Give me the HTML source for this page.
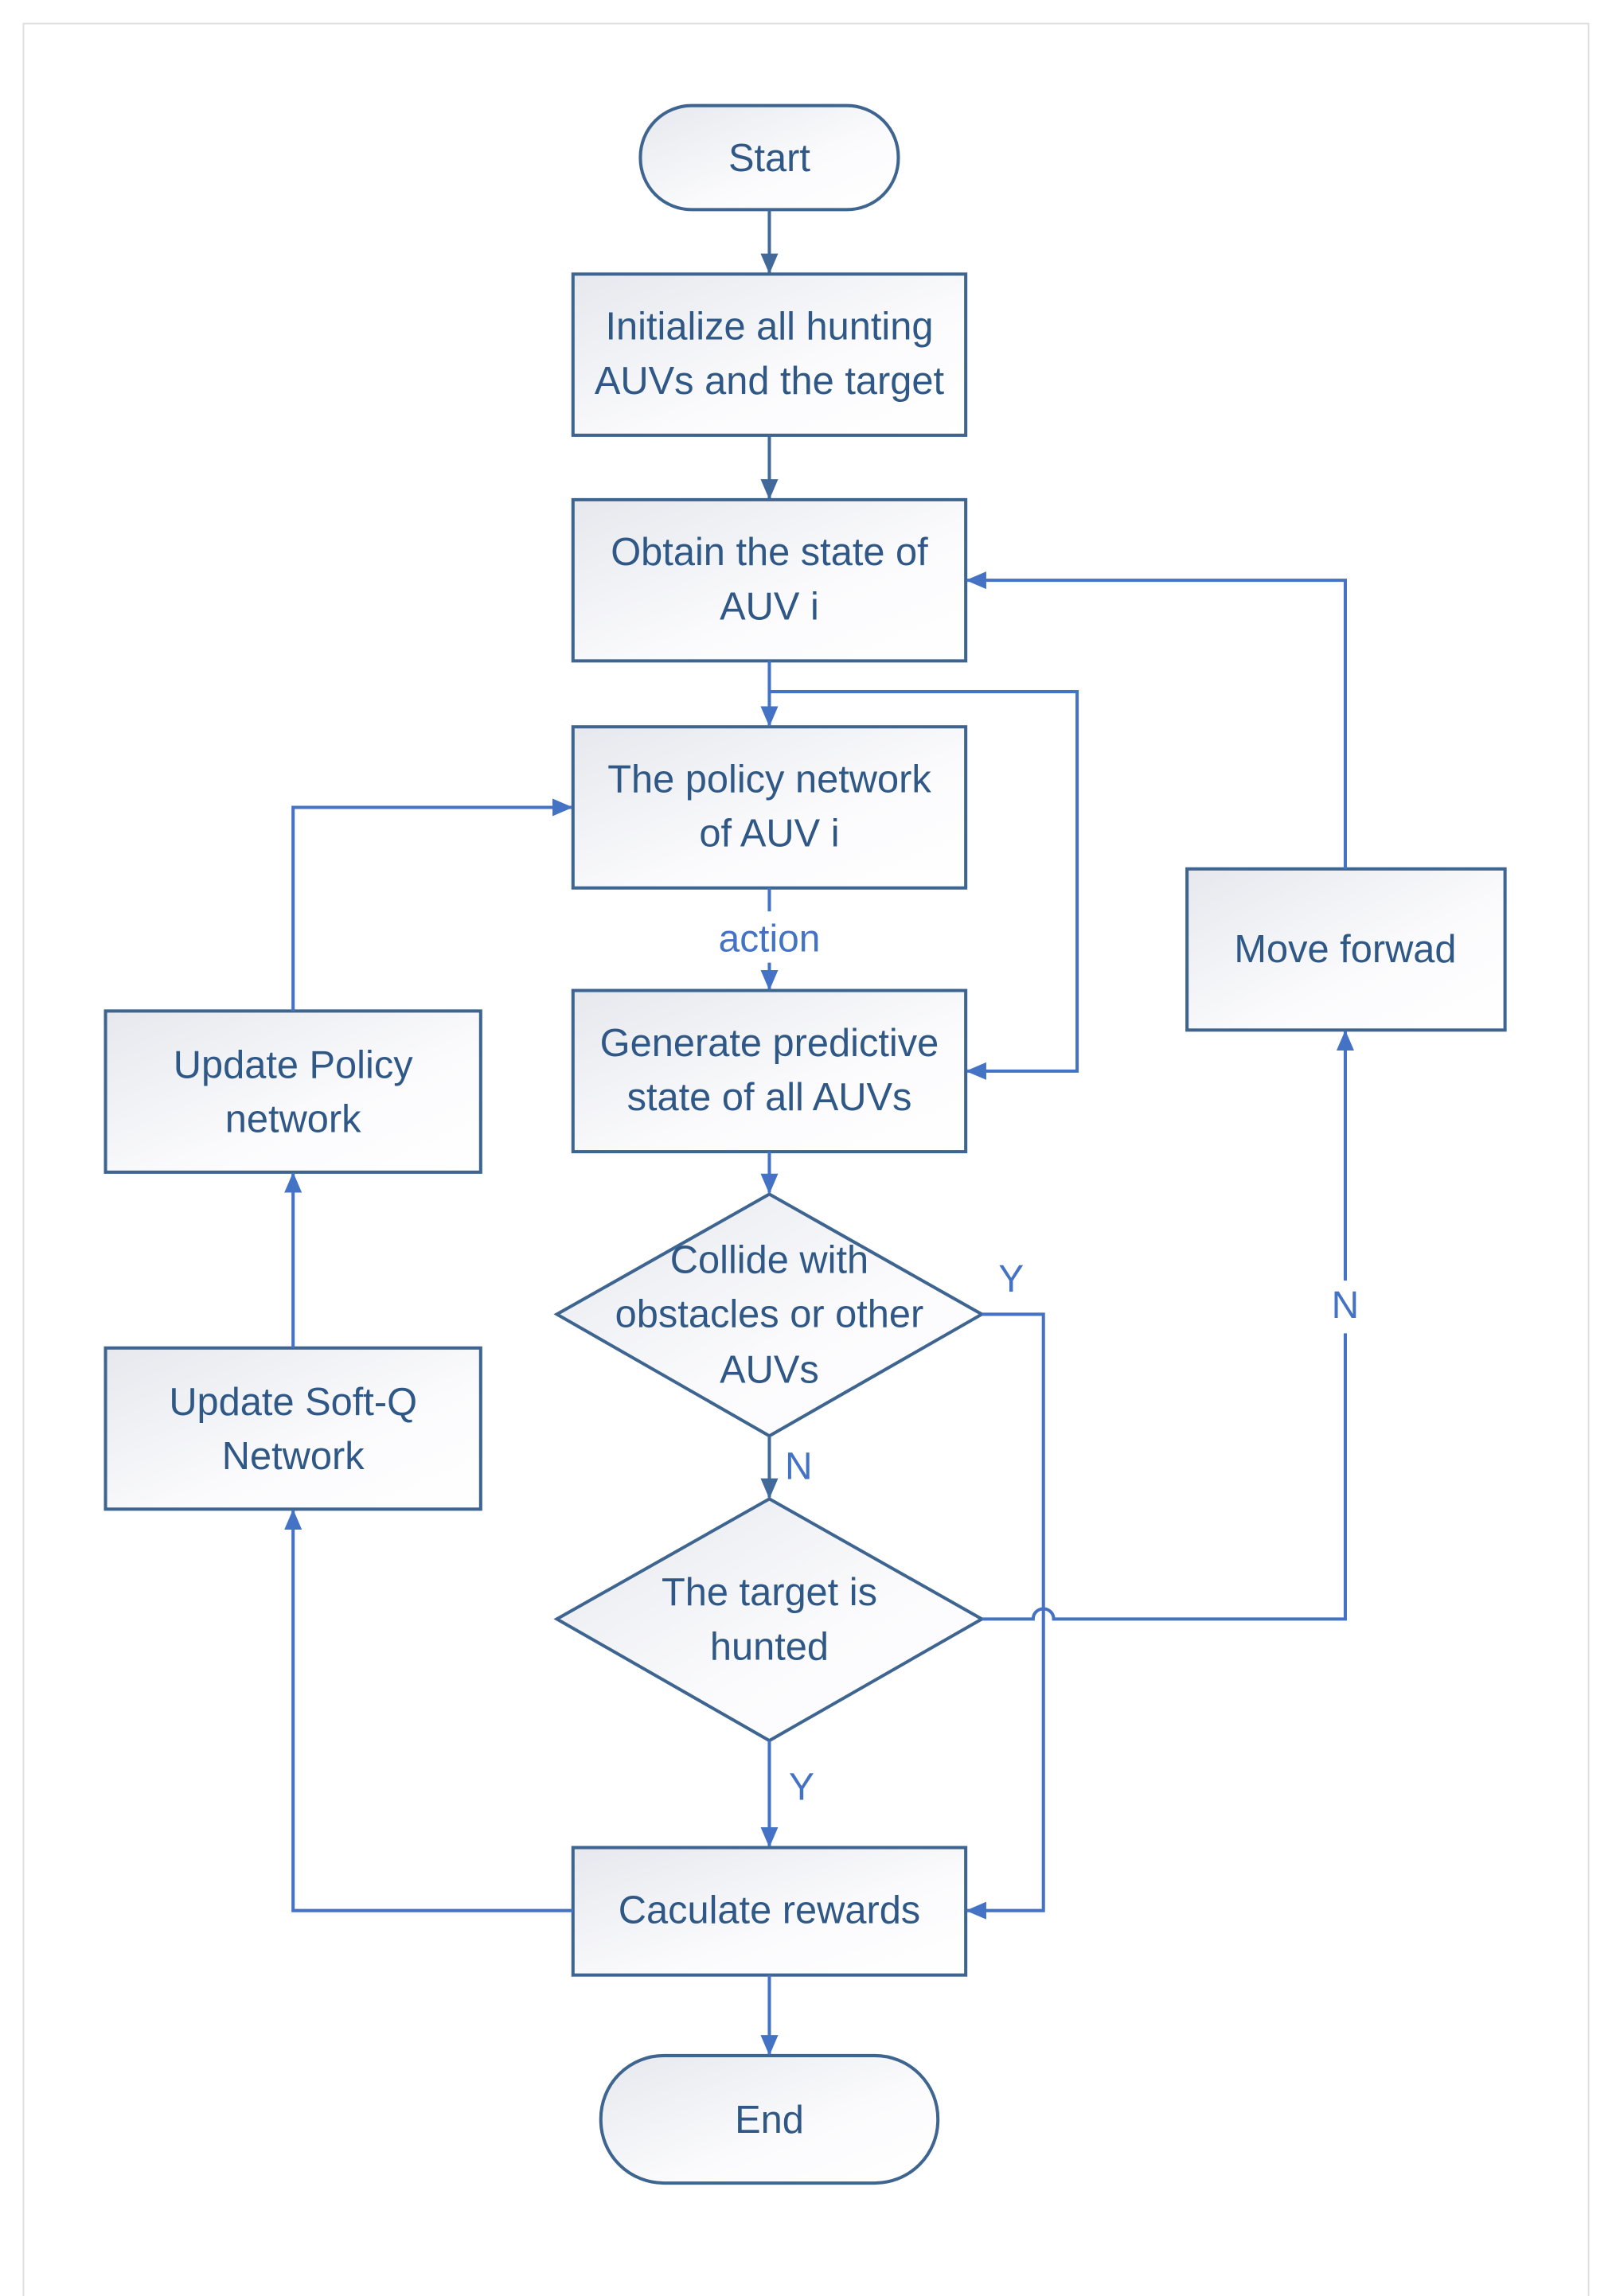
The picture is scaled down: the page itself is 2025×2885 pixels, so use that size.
<!DOCTYPE html>
<html><head><meta charset="utf-8"><style>html,body{margin:0;padding:0;background:#fff}svg{display:block}</style></head>
<body>
<svg width="2025" height="2885" viewBox="0 0 1100 1567" xmlns="http://www.w3.org/2000/svg">
<defs>
<linearGradient id="g" x1="0" y1="0" x2="1" y2="1"><stop offset="0" stop-color="#e6e8ed"/><stop offset="0.6" stop-color="#fbfbfd"/><stop offset="1" stop-color="#ffffff"/></linearGradient>
<marker id="ad" markerWidth="14" markerHeight="12" refX="13" refY="6" orient="auto" markerUnits="userSpaceOnUse"><path d="M0,0 L14,6 L0,12 z" fill="#41699a"/></marker>
<marker id="ab" markerWidth="14" markerHeight="12" refX="13" refY="6" orient="auto" markerUnits="userSpaceOnUse"><path d="M0,0 L14,6 L0,12 z" fill="#4472c4"/></marker>
</defs>
<rect x="16" y="16" width="1068" height="1600" fill="#fff" stroke="#dedede" stroke-width="1"/>
<g fill="url(#g)" stroke="#3e6590" stroke-width="2.2">
<rect x="437" y="72" width="176" height="71" rx="35"/>
<rect x="391" y="187" width="268" height="110"/>
<rect x="391" y="341" width="268" height="110"/>
<rect x="391" y="496" width="268" height="110"/>
<rect x="391" y="676" width="268" height="110"/>
<polygon points="525,815 670,897 525,980 380,897"/>
<polygon points="525,1023 670,1105 525,1188 380,1105"/>
<rect x="391" y="1261" width="268" height="87"/>
<rect x="410" y="1403" width="230" height="87" rx="43"/>
<rect x="72" y="690" width="256" height="110"/>
<rect x="72" y="920" width="256" height="110"/>
<rect x="810" y="593" width="217" height="110"/>
</g>
<g fill="none" stroke-width="2.2">
<line x1="525" y1="143" x2="525" y2="186" stroke="#41699a" marker-end="url(#ad)"/>
<line x1="525" y1="297" x2="525" y2="340" stroke="#41699a" marker-end="url(#ad)"/>
<line x1="525" y1="980" x2="525" y2="1022" stroke="#41699a" marker-end="url(#ad)"/>
<g stroke="#4472c4">
<line x1="525" y1="451" x2="525" y2="495" marker-end="url(#ab)"/>
<polyline points="525,472 735,472 735,731 660,731" marker-end="url(#ab)"/>
<line x1="525" y1="606" x2="525" y2="622"/>
<line x1="525" y1="657" x2="525" y2="675" marker-end="url(#ab)"/>
<line x1="525" y1="786" x2="525" y2="814" marker-end="url(#ab)"/>
<polyline points="670,897 712,897 712,1304 660,1304" marker-end="url(#ab)"/>
<path d="M670,1105 L705,1105 A7,7 0 0 1 719,1105 L918,1105 L918,910"/>
<line x1="918" y1="874" x2="918" y2="704" marker-end="url(#ab)"/>
<polyline points="918,593 918,396 660,396" marker-end="url(#ab)"/>
<line x1="525" y1="1188" x2="525" y2="1260" marker-end="url(#ab)"/>
<line x1="525" y1="1348" x2="525" y2="1402" marker-end="url(#ab)"/>
<polyline points="391,1304 200,1304 200,1031" marker-end="url(#ab)"/>
<line x1="200" y1="920" x2="200" y2="801" marker-end="url(#ab)"/>
<polyline points="200,690 200,551 390,551" marker-end="url(#ab)"/>
</g>
</g>
<g font-family="'Liberation Sans', sans-serif" font-size="26.5" fill="#2f5886" text-anchor="middle" dominant-baseline="central">
<text x="525" y="108">Start</text>
<text x="525" y="223">Initialize all hunting</text>
<text x="525" y="260">AUVs and the target</text>
<text x="525" y="377">Obtain the state of</text>
<text x="525" y="414">AUV i</text>
<text x="525" y="532">The policy network</text>
<text x="525" y="569">of AUV i</text>
<text x="525" y="712">Generate predictive</text>
<text x="525" y="749">state of all AUVs</text>
<text x="525" y="860">Collide with</text>
<text x="525" y="897">obstacles or other</text>
<text x="525" y="935">AUVs</text>
<text x="525" y="1087">The target is</text>
<text x="525" y="1124">hunted</text>
<text x="525" y="1304">Caculate rewards</text>
<text x="525" y="1447">End</text>
<text x="200" y="727">Update Policy</text>
<text x="200" y="764">network</text>
<text x="200" y="957">Update Soft-Q</text>
<text x="200" y="994">Network</text>
<text x="918" y="648">Move forwad</text>
</g>
<g font-family="'Liberation Sans', sans-serif" font-size="26" fill="#4472c4" text-anchor="middle" dominant-baseline="central">
<text x="525" y="641">action</text>
<text x="690" y="873">Y</text>
<text x="545" y="1001">N</text>
<text x="918" y="891">N</text>
<text x="547" y="1220">Y</text>
</g>
</svg>
</body></html>
